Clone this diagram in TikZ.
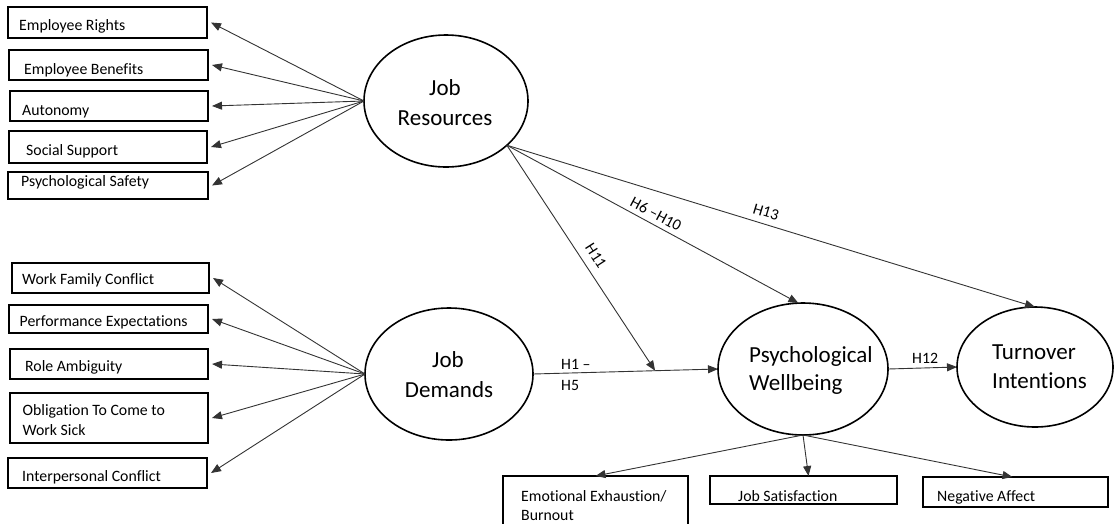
\documentclass[tikz,border=0pt]{standalone}
\usepackage{fontspec}
\setmainfont{Carlito}[Ligatures={TeX,NoCommon}]
\usetikzlibrary{arrows.meta,shapes.geometric,fit,calc}
\begin{document}
\begin{tikzpicture}[x=1pt,y=-1pt,
  box/.style={draw=black, line width=1.5pt, inner sep=0pt, outer sep=0pt},
  ell/.style={draw=black, ellipse, line width=1.6pt, inner sep=0pt, outer sep=0pt},
  con/.style={draw=black!80, line width=0.9pt, -{Triangle[length=10pt,width=8pt]}},
  lbl/.style={font=\fontsize{15.8}{20}\selectfont, inner sep=0pt, anchor=base west},
  bigc/.style={font=\fontsize{23}{28}\selectfont, inner sep=0pt, anchor=base},
  bigl/.style={font=\fontsize{23}{28}\selectfont, inner sep=0pt, anchor=base west},
  hl/.style={font=\fontsize{15.8}{20}\selectfont, inner sep=0pt}]
\useasboundingbox (0,0) rectangle (1115,523);

% ---- ellipses
\node[ell, minimum width=164pt, minimum height=132pt] (jr) at (446,101) {};
\node[ell, minimum width=168pt, minimum height=132pt] (jd) at (449,374) {};
\node[ell, minimum width=170pt, minimum height=132pt] (pw) at (803,369) {};
\node[ell, minimum width=156pt, minimum height=120pt] (to) at (1035,367) {};

\node[bigc] (jrA) at (445,95) {Job};
\node[bigc] (jrB) at (445,125) {Resources};
\node[bigc] (jdA) at (448,367) {Job};
\node[bigc] (jdB) at (449,397) {Demands};
\node[bigl] (pwA) at (749,362) {Psychological};
\node[bigl] (pwB) at (749,390) {Wellbeing};
\node[bigl] (toA) at (992,359) {Turnover};
\node[bigl] (toB) at (992,388) {Intentions};

% ---- resource boxes
\node[box, fit={(8,7) (207,38)}] (er) {};
\node[box, fit={(9,50) (208,80)}] (eb) {};
\node[box, fit={(10,91) (208,121)}] (au) {};
\node[box, fit={(9,131) (207,163)}] (ss) {};
\node[box, fit={(8,172) (208,199)}] (ps) {};
\node[lbl] (erT) at (19,30.5) {Employee Rights};
\node[lbl] (ebT) at (24,74) {Employee Benefits};
\node[lbl] (auT) at (22,115) {Autonomy};
\node[lbl] (ssT) at (26,155.5) {Social Support};
\node[lbl] (psT) at (21,186.5) {Psychological Safety};

% ---- demand boxes
\node[box, fit={(12,263) (209,293)}] (wf) {};
\node[box, fit={(9,305) (208,333)}] (pe) {};
\node[box, fit={(10,349) (208,379)}] (ra) {};
\node[box, fit={(10,393) (208,443)}] (ob) {};
\node[box, fit={(8,458) (207,488)}] (ic) {};
\node[lbl] (wfT) at (22,284) {Work Family Conflict};
\node[lbl] (peT) at (19.5,326) {Performance Expectations};
\node[lbl] (raT) at (25,371.5) {Role Ambiguity};
\node[lbl] (obT) at (22.5,415.5) {Obligation To Come to};
\node[lbl] (obU) at (22.5,435.5) {Work Sick};
\node[lbl] (icT) at (22,481.5) {Interpersonal Conflict};

% ---- outcome boxes
\node[box, fit={(503,476) (688,540)}] (ee) {};
\node[box, fit={(710,476) (897,504)}] (js) {};
\node[box, fit={(923,477) (1108,507)}] (na) {};
\node[lbl] (eeT) at (521,501) {Emotional Exhaustion/};
\node[lbl] (eeU) at (521,520) {Burnout};
\node[lbl] (jsT) at (738,501) {Job Satisfaction};
\node[lbl] (naT) at (937,501) {Negative Affect};

% ---- connectors
\foreach \b in {er,eb,au,ss,ps}
  \draw[con] (jr.west) -- ([xshift=4pt]\b.east);
\foreach \b in {wf,pe,ra,ob,ic}
  \draw[con] (jd.west) -- ([xshift=4pt]\b.east);

\coordinate (m) at ($(jd.east)!0.66!(pw.west)$);
\draw[con] (jd.east) -- (pw.west);
\draw[con] (jr.-36) -- (m);
\draw[con] (jr.-36) -- (pw.94);
\draw[con] (jr.-36) -- (to.north);
\draw[con] (pw.east) -- (to.west);

\draw[con] (pw.south) -- (ee.north);
\draw[con] (pw.south) -- ([xshift=5pt]js.north);
\draw[con] (pw.south) -- ([xshift=-3pt]na.north);

% ---- path labels
\node[hl, rotate=-57.2] (h11) at (596,256) {H11};
\node[hl, rotate=-28] (h610) at (656,214) {H6 –H10};
\node[hl, rotate=-16.7] (h13) at (766,212) {H13};
\node[hl, anchor=base west] (h1) at (561,369) {H1 –};
\node[hl, anchor=base west] (h5) at (561,390) {H5};
\node[hl, anchor=base west] (h12) at (912,363) {H12};
\end{tikzpicture}
\end{document}
